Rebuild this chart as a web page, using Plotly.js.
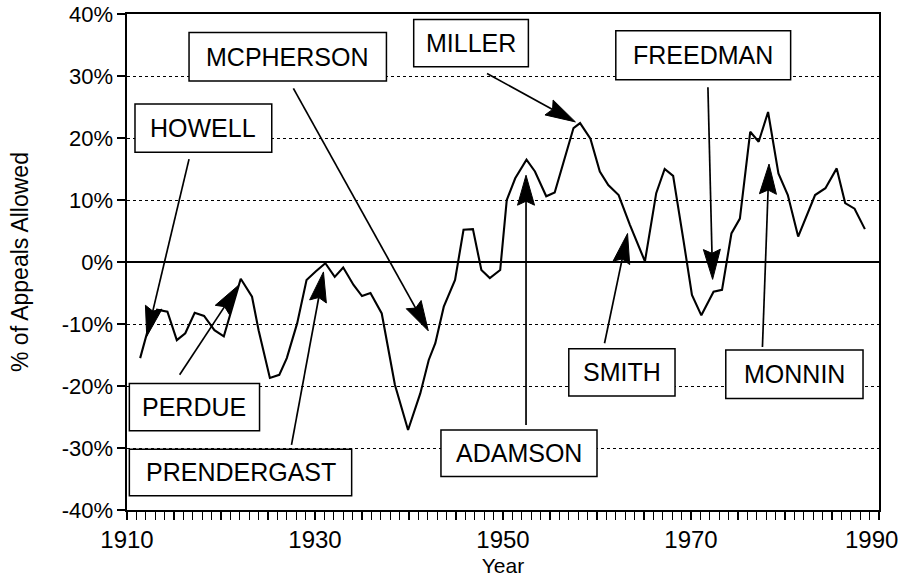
<!DOCTYPE html>
<html>
<head>
<meta charset="utf-8">
<script src="https://cdn.plot.ly/plotly-3.0.1.min.js"></script>
<style>html,body{margin:0;padding:0;background:#fff;}#chart{width:905px;height:577px;}</style>
</head>
<body>
<div id="chart"></div>
<script>
// ---- data ----
const years = [1911.4, 1912.3, 1913.2, 1914.3, 1915.3, 1916.2, 1917.2, 1918.2, 1919.3, 1920.3,
  1922.1, 1923.3, 1924.0, 1925.2, 1926.2, 1927.0, 1928.1, 1929.1, 1930.1, 1931.1,
  1932.1, 1933.0, 1934.1, 1935.0, 1935.9, 1937.1, 1938.5, 1939.9, 1941.2, 1942.1,
  1942.8, 1943.7, 1944.9, 1945.8, 1946.8, 1947.7, 1948.6, 1949.7, 1950.4, 1951.3,
  1952.5, 1953.4, 1954.6, 1955.5, 1956.4, 1957.5, 1958.2, 1959.3, 1960.3, 1961.2,
  1962.3, 1963.5, 1965.1, 1966.3, 1967.2, 1968.1, 1969.2, 1970.1, 1971.1, 1972.4,
  1973.3, 1974.3, 1975.2, 1976.3, 1977.2, 1978.2, 1979.3, 1980.3, 1981.4, 1983.2,
  1984.3, 1985.5, 1986.4, 1987.4, 1988.5];
const pctAllowed = [-15.5, -10.5, -7.7, -8.0, -12.6, -11.5, -8.2, -8.7, -11.0, -12.0,
  -2.7, -5.6, -11.0, -18.7, -18.2, -15.5, -9.9, -2.9, -1.5, -0.2,
  -2.4, -0.9, -3.7, -5.5, -5.0, -8.3, -19.8, -27.1, -21.2, -15.8,
  -13.1, -7.2, -2.9, 5.2, 5.3, -1.3, -2.6, -1.3, 10.0, 13.5,
  16.5, 14.6, 10.6, 11.2, 15.9, 21.6, 22.4, 19.9, 14.6, 12.4,
  10.8, 6.0, 0.1, 11.1, 15.0, 13.9, 3.5, -5.3, -8.6, -4.8,
  -4.5, 4.6, 7.0, 21.0, 19.4, 24.2, 14.3, 10.8, 4.1, 10.8,
  11.9, 15.1, 9.5, 8.6, 5.3];

const xTickVals = [1910, 1930, 1950, 1970, 1990];
const xTickText = ['1910', '1930', '1950', '1970', ''];
const lastXTick = {value: 1990, text: '1990'};   // drawn as annotation so it is not cut by the page edge
const yTickVals = [-40, -30, -20, -10, 0, 10, 20, 30, 40];
const yTickText = ['-40%', '-30%', '-20%', '-10%', '0%', '10%', '20%', '30%', '40%'];

// commissioner labels (annotation boxes and arrows, in data units)
const labelNames = ['HOWELL', 'MCPHERSON', 'MILLER', 'FREEDMAN', 'PERDUE', 'PRENDERGAST', 'ADAMSON', 'SMITH', 'MONNIN'];
const labelBoxes = [
  [1910.85, 1925.4, 17.7, 25.5],
  [1916.6, 1937.6, 29.2, 37.0],
  [1940.5, 1952.7, 31.5, 39.1],
  [1962.0, 1980.6, 29.4, 37.3],
  [1910.25, 1924.1, -27.2, -19.6],
  [1910.25, 1933.9, -37.7, -30.2],
  [1943.4, 1960.0, -34.6, -27.1],
  [1957.0, 1968.3, -21.6, -14.0],
  [1973.7, 1988.3, -22.0, -14.2]];
const arrowTails = [[1916.6, 16.6], [1927.7, 28.0], [1948.3, 30.4], [1971.8, 28.2], [1915.6, -18.2],
  [1927.5, -29.5], [1952.45, -26.3], [1960.8, -13.1], [1977.6, -13.7]];
const arrowTips = [[1912.1, -12.0], [1942.05, -11.1], [1957.7, 22.6], [1972.3, -2.8], [1921.9, -3.7],
  [1930.9, -1.6], [1952.45, 14.0], [1963.25, 4.6], [1978.3, 15.8]];

// ---- layout geometry ----
const W = 905, H = 577;
const margin = {l: 127, r: 26, t: 14, b: 67, pad: 0};
const xRange = [1910, 1990], yRange = [-40, 40];
const pxX = (W - margin.l - margin.r) / (xRange[1] - xRange[0]);
const pxY = (H - margin.t - margin.b) / (yRange[1] - yRange[0]);
const FONT = 'Liberation Sans, Arial, Helvetica, sans-serif';

const shapes = [];
const annotations = [];
labelNames.forEach((name, i) => {
  const b = labelBoxes[i];
  shapes.push({type: 'rect', xref: 'x', yref: 'y', x0: b[0], x1: b[1], y0: b[2], y1: b[3],
    fillcolor: 'white', line: {color: 'black', width: 1.5}, layer: 'above'});
  annotations.push({xref: 'x', yref: 'y', x: (b[0] + b[1]) / 2, y: (b[2] + b[3]) / 2,
    text: name, showarrow: false, xanchor: 'center', yanchor: 'middle',
    font: {family: FONT, size: 25, color: 'black'}});
  // arrow: shaft + narrow filled head
  const t = arrowTails[i], p = arrowTips[i];
  const dx = (p[0] - t[0]) * pxX, dy = (p[1] - t[1]) * pxY;
  const len = Math.hypot(dx, dy);
  const ux = dx / len, uy = dy / len, nx = -uy, ny = ux;
  const L = 30, HW = 8.5, N = 26;
  const toData = (ox, oy) => [p[0] + ox / pxX, p[1] + oy / pxY];
  const c1 = toData(-L * ux + HW * nx, -L * uy + HW * ny);
  const c2 = toData(-L * ux - HW * nx, -L * uy - HW * ny);
  const back = toData(-N * ux, -N * uy);
  shapes.push({type: 'line', xref: 'x', yref: 'y', x0: t[0], y0: t[1], x1: back[0], y1: back[1],
    line: {color: 'black', width: 1.7}, layer: 'above'});
  shapes.push({type: 'path', xref: 'x', yref: 'y',
    path: `M${p[0]},${p[1]} L${c1[0]},${c1[1]} L${back[0]},${back[1]} L${c2[0]},${c2[1]} Z`,
    fillcolor: 'black', line: {color: 'black', width: 1}, layer: 'above'});
});

// last x tick label, nudged inside the page like in the reference
annotations.push({xref: 'x', yref: 'paper', x: lastXTick.value, y: 0, xanchor: 'center', yanchor: 'middle',
  xshift: -8, yshift: -29, text: lastXTick.text, showarrow: false,
  font: {family: FONT, size: 24, color: 'black'}});

const trace = {
  x: years, y: pctAllowed, type: 'scatter', mode: 'lines',
  line: {color: 'black', width: 2.1}, hoverinfo: 'skip'
};

const layout = {
  width: W, height: H, margin: margin,
  paper_bgcolor: 'white', plot_bgcolor: 'white',
  showlegend: false,
  font: {family: FONT, color: 'black'},
  xaxis: {
    range: xRange, tickvals: xTickVals, ticktext: xTickText,
    ticks: 'outside', ticklen: 8, tickwidth: 1.2, tickcolor: 'black',
    minor: {dtick: 1, ticks: 'outside', ticklen: 8, tickwidth: 1.2, tickcolor: 'black', showgrid: false},
    showgrid: false, zeroline: false,
    showline: true, linecolor: 'black', linewidth: 1.6, mirror: true,
    tickfont: {family: FONT, size: 24, color: 'black'},
    title: {text: 'Year', font: {family: FONT, size: 21, color: 'black'}, standoff: 8}
  },
  yaxis: {
    range: yRange, tickvals: yTickVals, ticktext: yTickText,
    ticks: 'outside', ticklen: 8, tickwidth: 1.2, tickcolor: 'black',
    showgrid: true, gridcolor: 'black', gridwidth: 1, griddash: 'dot',
    zeroline: true, zerolinecolor: 'black', zerolinewidth: 1.5,
    showline: true, linecolor: 'black', linewidth: 1.6, mirror: true,
    tickfont: {family: FONT, size: 22, color: 'black'},
    title: {text: '% of Appeals Allowed', font: {family: FONT, size: 23, color: 'black'}, standoff: 26}
  },
  shapes: shapes,
  annotations: annotations
};

Plotly.newPlot('chart', [trace], layout, {staticPlot: true, displayModeBar: false});
</script>
</body>
</html>
